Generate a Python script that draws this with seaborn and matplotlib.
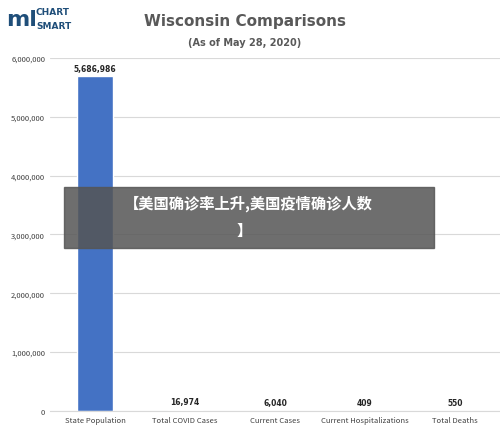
import matplotlib
matplotlib.use('Agg')
import matplotlib.pyplot as plt
import seaborn as sns
from matplotlib.patches import Rectangle
from matplotlib.ticker import FuncFormatter

categories = ['State Population', 'Total COVID Cases', 'Current Cases',
              'Current Hospitalizations', 'Total Deaths']
values = [5686986, 16974, 6040, 409, 550]

sns.set_style('white')
plt.rcParams['font.family'] = ['Noto Sans CJK SC', 'DejaVu Sans']

fig = plt.figure(figsize=(5, 4.39), dpi=100)
ax = fig.add_axes([0.10, 0.0615, 0.90, 0.8045])
sns.barplot(x=categories, y=values, color='#4472C4', width=0.41, ax=ax,
            saturation=1)
ax.set_ylim(0, 6000000)
ax.set_yticks(range(0, 6000001, 1000000))
ax.yaxis.set_major_formatter(FuncFormatter(lambda v, p: f'{int(v):,}'))
ax.grid(axis='y', color='#d9d9d9', lw=0.8)
ax.set_axisbelow(True)
for s in ['top', 'right', 'left']:
    ax.spines[s].set_visible(False)
ax.spines['bottom'].set_color('#d9d9d9')
ax.tick_params(axis='both', labelsize=5.5, colors='#404040', length=0)
for i, v in enumerate(values):
    ax.text(i, v + 60000, f'{v:,}', ha='center', va='bottom', fontsize=5.5,
            fontweight='bold', color='#262626', family='DejaVu Sans')

fig.text(0.49, 0.95, 'Wisconsin Comparisons', ha='center', va='center',
         fontsize=11, fontweight='bold', color='#595959', family='DejaVu Sans')
fig.text(0.49, 0.902, '(As of May 28, 2020)', ha='center', va='center',
         fontsize=7, fontweight='bold', color='#595959', family='DejaVu Sans')

# logo
fig.text(0.012, 0.955, 'ml', fontsize=16, fontweight='bold', color='#1f4e79',
         va='center', family='DejaVu Sans')
fig.text(0.072, 0.972, 'CHART', fontsize=6.5, fontweight='bold', color='#1f4e79',
         va='center', family='DejaVu Sans')
fig.text(0.072, 0.94, 'SMART', fontsize=6.5, fontweight='bold', color='#1f4e79',
         va='center', family='DejaVu Sans')

# banner overlay
fig.patches.append(Rectangle((0.128, 0.433), 0.74, 0.139, transform=fig.transFigure,
                             color='#555555', alpha=0.85, zorder=5))
fig.text(0.496, 0.535, '【美国确诊率上升,美国疫情确诊人数', ha='center', va='center',
         fontsize=11, fontweight='bold', color='white', zorder=6)
fig.text(0.488, 0.475, '】', ha='center', va='center',
         fontsize=11, fontweight='bold', color='white', zorder=6)

fig.savefig('out.png', dpi=100)
